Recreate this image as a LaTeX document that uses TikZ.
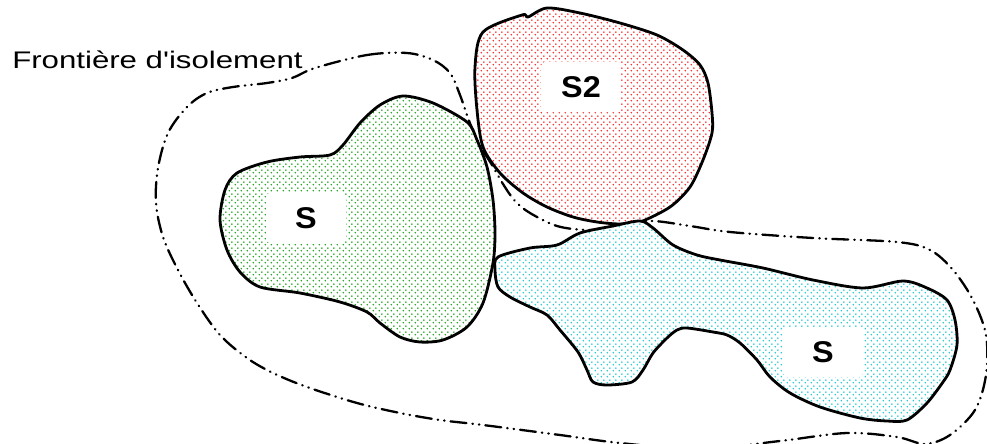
\documentclass[tikz,border=0pt]{standalone}
\usepackage{fontspec}
\setmainfont{Liberation Sans}
\usetikzlibrary{patterns.meta}
\definecolor{pointvert}{RGB}{20,160,20}
\definecolor{pointrouge}{RGB}{255,30,30}
\definecolor{pointcyan}{RGB}{20,200,210}
\tikzdeclarepattern{
  name=pointille, type=uncolored,
  bounding box={(0pt,0pt) and (6pt,6pt)}, tile size={(6pt,6pt)},
  code={\fill (1.5pt,1.5pt) circle (0.95pt); \fill (4.5pt,4.5pt) circle (0.95pt);}}
\begin{document}
\begin{tikzpicture}[x=1pt, y=-1pt,
  zone/.style={draw=black, line width=2.8pt, line join=round, preaction={fill=white}, pattern=pointille},
  etiquette/.style={fill=white, rounded corners=4pt, inner sep=0pt, minimum width=74pt, minimum height=50pt,
    font=\fontsize{30}{36}\selectfont\bfseries, xscale=1.08},
  frontiere/.style={line width=2.3pt, line cap=round,
    dash pattern=on 16pt off 6pt on 0.5pt off 6pt on 0.5pt off 6pt}]
  \useasboundingbox (0,0) rectangle (987,444);
  % 隔离边界
  \draw[frontiere] plot[smooth cycle, tension=0.55] coordinates {
    (315,68) (367,55) (407,53) (433,60) (450,73) (460,95) (468,118) (478,142)
    (492,165) (503,184) (515,201) (530,213) (557,226) (587,230) (620,228) (650,221)
    (690,226) (730,232) (813,238) (897,242) (930,250) (953,270) (973,300) (986,335)
    (986,375) (975,410) (950,435) (925,444) (897,437) (847,433) (780,441) (700,449)
    (620,443) (560,435) (483,425) (440,420) (400,413) (357,403) (307,387) (273,373)
    (247,358) (220,335) (197,303) (178,270) (163,237) (156,203) (158,168) (168,133)
    (187,107) (207,93) (233,87) (267,83) (292,78)};
  % 区域 S
  \draw[zone, pattern color=pointvert] plot[smooth cycle, tension=0.5] coordinates {
    (403,96) (433,103) (467,122) (477,140) (487,167) (493,200) (495,233) (493,263)
    (483,303) (467,327) (443,340) (420,342) (400,337) (380,323) (367,312) (340,302)
    (300,293) (260,287) (240,272) (227,250) (220,220) (225,190) (237,173) (267,162)
    (300,157) (330,155) (343,145) (360,123) (380,105)};
  % 区域 S2
  \draw[zone, pattern color=pointrouge] plot[smooth cycle, tension=0.5] coordinates {
    (483,32) (522,15) (528,17) (547,8) (580,13) (620,23) (657,35) (683,50) (700,65)
    (708,83) (712,113) (712,133) (703,160) (690,187) (670,207) (640,222) (620,224)
    (597,222) (573,217) (547,207) (523,193) (500,173) (483,147) (477,110) (475,67)};
  % 区域 S（右）
  \draw[zone, pattern color=pointcyan] plot[smooth cycle, tension=0.5] coordinates {
    (640,221) (653,228) (673,245) (697,255) (720,260) (763,268) (813,280) (863,288)
    (903,281) (927,288) (947,300) (955,320) (957,345) (950,370) (943,382) (927,403)
    (907,420) (887,421) (860,418) (820,407) (790,393) (770,377) (757,360) (740,343)
    (727,335) (713,332) (687,328) (677,330) (667,338) (653,353) (643,370) (632,382)
    (607,385) (593,382) (587,370) (578,352) (560,330) (547,315) (530,307) (510,297)
    (498,287) (495,270) (498,257) (530,248) (557,245) (580,233) (613,226)};
  % 标签
  \node[etiquette] (s1) at (306,218) {S};
  \node[etiquette] (s2) at (581,87) {S2};
  \node[etiquette] (s3) at (823,352) {S};
  \node[anchor=base west, inner sep=0pt, font=\fontsize{24}{29}\selectfont, xscale=1.3]
    (titre) at (12,69) {Frontière d\textquotesingle isolement};
\end{tikzpicture}
\end{document}
